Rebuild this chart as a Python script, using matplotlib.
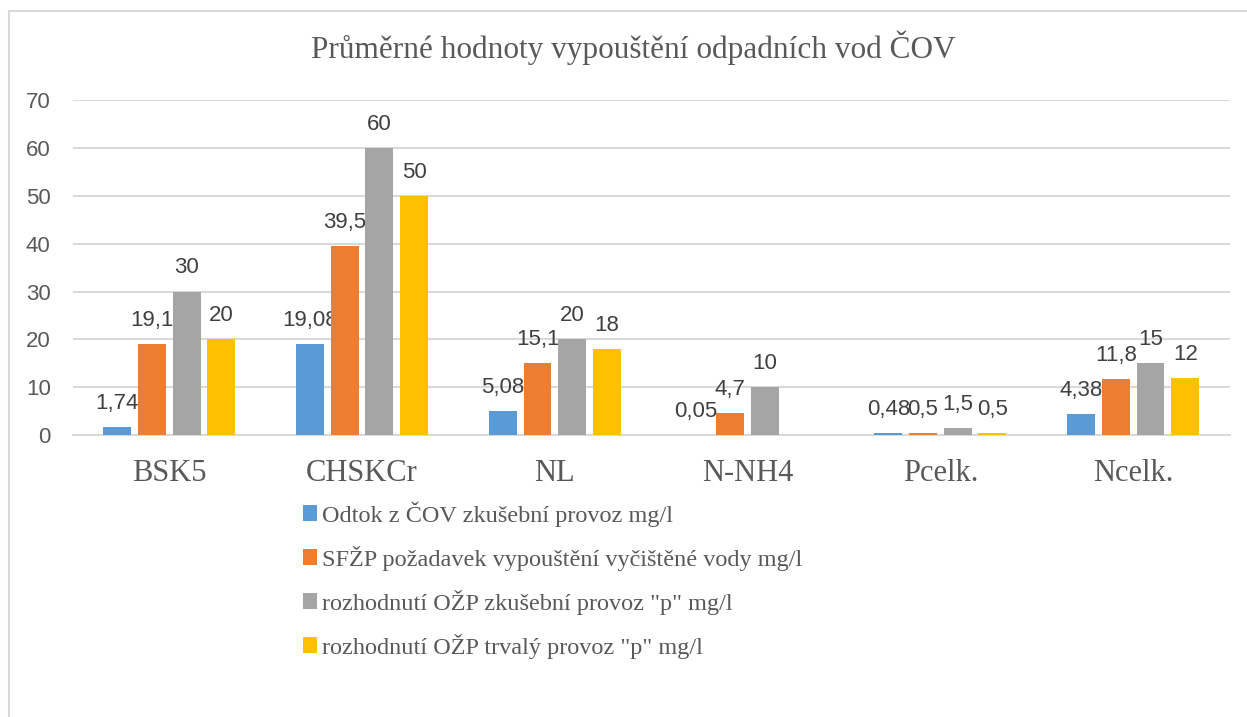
import numpy as np
import matplotlib
matplotlib.use("Agg")
import matplotlib.pyplot as plt
from matplotlib.patches import Rectangle

categories = ["BSK5", "CHSKCr", "NL", "N-NH4", "Pcelk.", "Ncelk."]
series_names = [
    "Odtok z ČOV zkušební provoz mg/l",
    "SFŽP požadavek vypouštění vyčištěné vody mg/l",
    "rozhodnutí OŽP zkušební provoz \"p\" mg/l",
    "rozhodnutí OŽP trvalý provoz \"p\" mg/l",
]
odtok = [1.74, 19.08, 5.08, 0.05, 0.48, 4.38]
sfzp = [19.1, 39.5, 15.1, 4.7, 0.5, 11.8]
ozp_zkus = [30, 60, 20, 10, 1.5, 15]
ozp_trvaly = [20, 50, 18, None, 0.5, 12]
series = [odtok, sfzp, ozp_zkus, ozp_trvaly]
colors = ["#5b9bd5", "#ed7d31", "#a5a5a5", "#ffc000"]

def fmt(v):
    return ("%g" % v).replace(".", ",")

fig = plt.figure(figsize=(12.47, 7.17), dpi=100)
ax = fig.add_axes([0.0585, 0.393, 0.9275, 0.4675])

x = np.arange(len(categories))
width = 0.145
pitch = 0.18
for i, (vals, col, name) in enumerate(zip(series, colors, series_names)):
    offs = (i - 1.5) * pitch
    xs = [xi + offs for xi, v in zip(x, vals) if v is not None]
    ys = [v for v in vals if v is not None]
    ax.bar(xs, ys, width=width, color=col, label=name, zorder=3)
    for xx, yy in zip(xs, ys):
        ax.annotate(fmt(yy), (xx, yy), xytext=(0, 17), textcoords="offset points",
                    ha="center", va="center", fontsize=16, color="#404040",
                    family="Liberation Sans")

ax.set_xlim(-0.5, len(categories) - 0.5)
ax.set_ylim(0, 70)
ax.set_yticks(range(0, 71, 10))
ax.yaxis.grid(True, color="#d9d9d9", linewidth=1.5, zorder=0)
ax.set_axisbelow(True)
for sp in ["top", "right", "left"]:
    ax.spines[sp].set_visible(False)
ax.spines["bottom"].set_color("#d9d9d9")
ax.spines["bottom"].set_linewidth(1.5)
ax.tick_params(axis="both", length=0)
ax.tick_params(axis="y", labelsize=16, labelcolor="#595959", pad=16)
ax.set_xticks(x)
ax.set_xticklabels(categories, family="Liberation Serif", fontsize=22, color="#595959")
ax.tick_params(axis="x", pad=17)
for lab in ax.get_yticklabels():
    lab.set_family("Liberation Sans")

fig.text(0.508, 0.934, "Průměrné hodnoty vypouštění odpadních vod ČOV",
         ha="center", va="center", family="Liberation Serif", fontsize=22.5, color="#595959")

leg = fig.legend(loc="upper left", bbox_to_anchor=(0.233, 0.318), frameon=False,
                 prop={"family": "Liberation Serif", "size": 17.5},
                 handlelength=0.6, handleheight=0.6, handletextpad=0.2,
                 labelspacing=0.78, borderpad=0)
for t in leg.get_texts():
    t.set_color("#595959")

fig.patches.append(Rectangle((9 / 1247, -0.1), 1.2, 1 - 11 / 717 + 0.1,
                             transform=fig.transFigure, fill=False,
                             edgecolor="#d9d9d9", linewidth=1.5))

fig.savefig("out.png", dpi=100)
